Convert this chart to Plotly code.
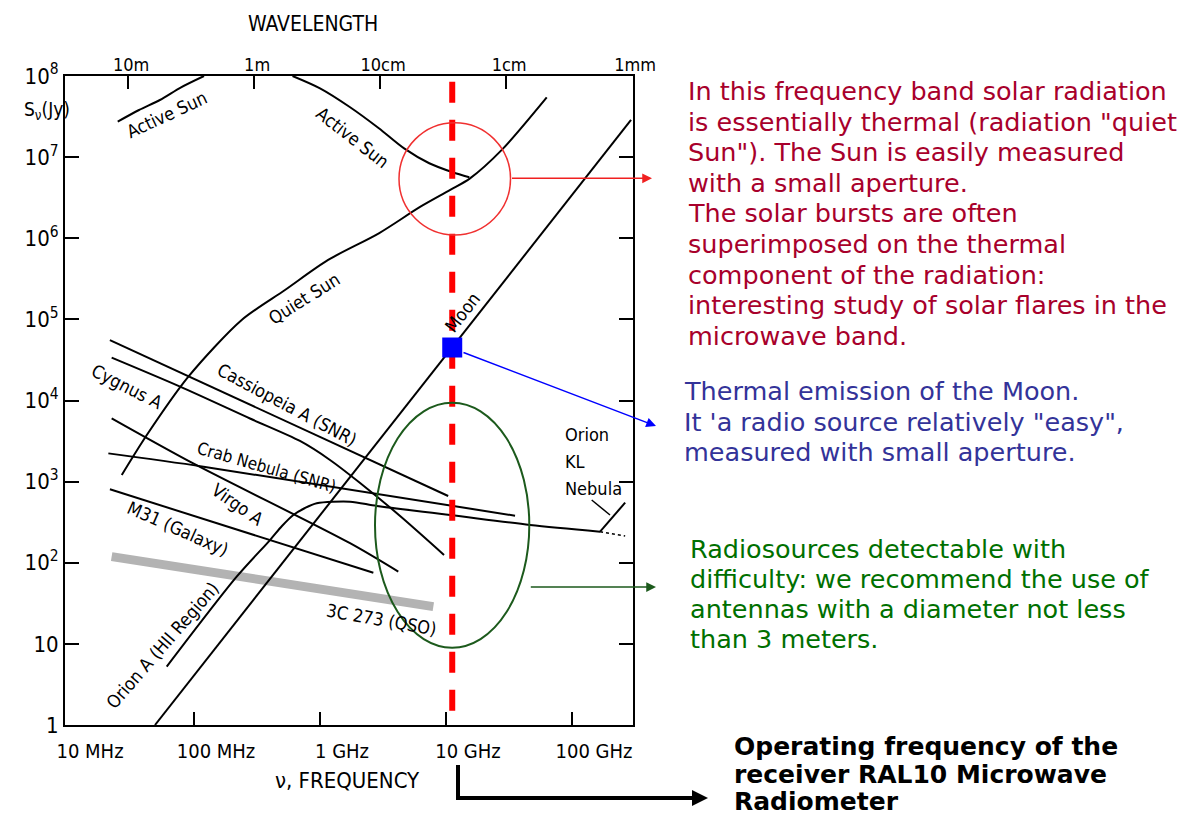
import plotly.graph_objects as go

# ---------------- data (frequency in Hz, flux density in Jy) -------------
active_sun_low_f = [2.48e7, 3.66e7, 5.36e7, 7.89e7, 1.20e8]
active_sun_low_s = [2.74e7, 3.81e7, 5.06e7, 7.26e7, 1.00e8]

active_sun_high_f = [6.05e8, 1.00e9, 1.71e9, 2.93e9, 4.65e9, 7.36e9, 1.13e10, 1.53e10]
active_sun_high_s = [1.00e8, 7.05e7, 4.18e7, 2.27e7, 1.28e7, 8.40e6, 6.50e6, 5.64e6]

quiet_sun_f = [2.67e7, 4.22e7, 9.02e7, 2.39e8, 5.27e8, 1.16e9, 2.93e9, 6.22e9,
               1.08e10, 1.55e10, 2.77e10, 6.30e10]
quiet_sun_s = [1.21e3, 3.76e3, 1.97e4, 9.84e4, 2.30e5, 5.40e5, 1.15e6, 2.43e6,
               3.94e6, 5.48e6, 1.23e7, 5.46e7]

moon_f = [4.90e7, 2.94e11]
moon_s = [1.0, 2.87e7]

cas_a_f = [2.15e7, 1.04e10]
cas_a_s = [5.56e4, 665.0]

cyg_a_f = [2.22e7, 7.75e7, 2.78e8, 6.93e8, 1.20e9, 2.08e9, 4.32e9, 9.64e9]
cyg_a_s = [3.37e4, 1.48e4, 6.00e3, 3.17e3, 1.85e3, 962.0, 377.0, 125.0]

virgo_a_f = [2.22e7, 9.86e7, 1.73e9, 4.18e9]
virgo_a_s = [6.04e3, 1.68e3, 174.0, 77.6]

m31_f = [2.15e7, 2.65e9]
m31_s = [804.0, 75.3]

crab_f = [2.09e7, 1.19e8, 3.53e10]
crab_s = [2.23e3, 1.53e3, 380.0]

orion_a_f = [6.07e7, 2.18e8, 4.01e8, 4.99e8, 6.14e8, 7.60e8, 9.42e8, 1.73e9,
             2.82e9, 1.08e10, 4.65e10, 1.67e11]
orion_a_s = [5.24, 67.3, 190.5, 283.8, 388.2, 473.2, 540.8, 566.2,
             501.2, 388.2, 291.7, 241.5]

orion_kl_f = [1.67e11, 2.64e11]
orion_kl_s = [241.5, 551.0]
orion_ext_f = [1.67e11, 2.64e11]
orion_ext_s = [241.5, 213.8]

qso_3c273_f = [2.22e7, 7.93e9]
qso_3c273_s = [119.0, 28.8]

radiometer_f = [1.12e10, 1.12e10]
radiometer_s = [8.5e7, 1.09]
moon_at_radiometer_f = [1.12e10]
moon_at_radiometer_s = [4.5e4]

freq_ticks = [1e7, 1e8, 1e9, 1e10, 1e11]
freq_labels = ["10 MHz", "100 MHz", "1 GHz", "10 GHz", "100 GHz"]
wave_ticks = [3e7, 3e8, 3e9, 3e10, 3e11]
wave_labels = ["10m", "1m", "10cm", "1cm", "1mm"]
flux_ticks = [1, 10, 1e2, 1e3, 1e4, 1e5, 1e6, 1e7, 1e8]
flux_labels = ["1", "10", "10<sup>2</sup>", "10<sup>3</sup>", "10<sup>4</sup>",
               "10<sup>5</sup>", "10<sup>6</sup>", "10<sup>7</sup>", "10<sup>8</sup>"]

# ---------------- layout geometry (page pixels; the page body has an 8px margin) -------------
BODY = 8
W, H = 1191 - BODY, 817 - BODY
PL, PR, PT, PB = 65, 633, 76, 725          # plot frame in page pixels
L, T = PL - BODY, PT - BODY
R, B = (BODY + W) - PR, (BODY + H) - PB
PW, PH = PR - PL, PB - PT
X_RANGE = [6.976, 6.976 + PW / 126.0]

NARROW = "Liberation Sans Narrow, DejaVu Sans Condensed, Roboto Condensed, Arial Narrow, Liberation Sans, sans-serif"
VERD = "DejaVu Sans, Verdana, sans-serif"


def px(x):
    return (x - PL) / PW


def py(y):
    return (PB - y) / PH


fig = go.Figure()


def curve(f, s, width=2.0, color="black", dash=None, shape="linear", opacity=1.0):
    fig.add_trace(go.Scatter(x=f, y=s, mode="lines", opacity=opacity,
                             line=dict(color=color, width=width, dash=dash, shape=shape,
                                       smoothing=0.8),
                             hoverinfo="skip", showlegend=False))


curve(qso_3c273_f, qso_3c273_s, width=9, color="#9a9a9a", opacity=0.75)
curve(active_sun_low_f, active_sun_low_s, shape="spline")
curve(active_sun_high_f, active_sun_high_s, shape="spline")
curve(quiet_sun_f, quiet_sun_s, shape="spline")
curve(moon_f, moon_s)
curve(cas_a_f, cas_a_s)
curve(cyg_a_f, cyg_a_s, shape="spline")
curve(virgo_a_f, virgo_a_s, shape="spline")
curve(m31_f, m31_s)
curve(crab_f, crab_s, shape="spline")
curve(orion_a_f, orion_a_s, shape="spline")
curve(orion_kl_f, orion_kl_s)
curve(orion_ext_f, orion_ext_s, width=1.5, dash="3px,3px")

# radiometer frequency line
fig.add_trace(go.Scatter(x=radiometer_f, y=radiometer_s, mode="lines",
                         line=dict(color="#ff0000", width=6, dash="21px,17px"),
                         hoverinfo="skip", showlegend=False))
fig.add_trace(go.Scatter(x=moon_at_radiometer_f, y=moon_at_radiometer_s, mode="markers",
                         marker=dict(symbol="square", size=20, color="#0000ff"),
                         hoverinfo="skip", showlegend=False))
# invisible traces to carry the wavelength axis and the bottom tick marks
fig.add_trace(go.Scatter(x=wave_ticks, y=[10] * len(wave_ticks), xaxis="x2", mode="lines",
                         line=dict(width=0), opacity=0, hoverinfo="skip", showlegend=False))
fig.add_trace(go.Scatter(x=freq_ticks, y=[10] * len(freq_ticks), xaxis="x3", mode="lines",
                         line=dict(width=0), opacity=0, hoverinfo="skip", showlegend=False))

fig.update_layout(
    width=W, height=H, margin=dict(l=L, r=R, t=T, b=B, pad=0),
    paper_bgcolor="white", plot_bgcolor="white", showlegend=False,
    font=dict(family=NARROW, color="black"),
    xaxis=dict(type="log", range=X_RANGE, tickvals=freq_ticks, ticktext=freq_labels,
               ticks="", showline=True, linecolor="black", linewidth=2, mirror=True,
               showgrid=False, zeroline=False, tickfont=dict(size=20, family=NARROW),
               ticklabelshift=22, ticklabelstandoff=7),
    xaxis3=dict(type="log", range=X_RANGE, overlaying="x", side="bottom",
                tickvals=freq_ticks[1:], showticklabels=False, ticks="inside", ticklen=13,
                tickwidth=1.5, tickcolor="black", showline=False, showgrid=False,
                zeroline=False),
    xaxis2=dict(type="log", range=X_RANGE, overlaying="x", side="top",
                tickvals=wave_ticks, ticktext=wave_labels, ticks="inside", ticklen=13,
                tickwidth=1.5, tickcolor="black", showline=False, showgrid=False,
                zeroline=False, tickfont=dict(size=18, family=NARROW), ticklabelshift=3),
    yaxis=dict(type="log", range=[0, 8], tickvals=flux_ticks, ticktext=flux_labels,
               ticks="inside", ticklen=14, tickwidth=1.5, tickcolor="black",
               showline=True, linecolor="black", linewidth=2, mirror="ticks",
               showgrid=False, zeroline=False, tickfont=dict(size=22, family=NARROW)),
)


def label(text, x, y, angle=0, size=18, xanchor="center", color="black", family=NARROW):
    fig.add_annotation(text=text, x=px(x), y=py(y), xref="paper", yref="paper",
                       showarrow=False, textangle=angle, xanchor=xanchor, yanchor="middle",
                       font=dict(size=size, color=color, family=family))


# axis titles
label("WAVELENGTH", 313, 24, size=21)
label("ν, FREQUENCY", 347, 780, size=22)
label("S<sub>ν</sub>(Jy)", 47, 110, size=19)

# curve labels
label("Active Sun", 167, 115, -25)
label("Active Sun", 353, 137, 38)
label("Quiet Sun", 304, 298, -32)
label("Moon", 462, 312, -52)
label("Cygnus A", 127, 386, 27)
label("Cassiopeia A (SNR)", 287, 404, 28)
label("Crab Nebula (SNR)", 266, 467, 16, size=17)
label("Virgo A", 238, 504, 35)
label("M31 (Galaxy)", 178, 528, 24)
label("Orion A (HII Region)", 162, 645, -49)
label("3C 273 (QSO)", 381, 619, 10)
label("Orion", 563, 435, xanchor="left")
label("KL", 563, 461, xanchor="left")
label("Nebula", 563, 488, xanchor="left")

# shapes: circles, leader, bracket
fig.add_shape(type="circle", xref="paper", yref="paper", x0=px(399), x1=px(510.5),
              y0=py(235), y1=py(122.7), line=dict(color="#f03030", width=1.5))
fig.add_shape(type="circle", xref="paper", yref="paper", x0=px(375), x1=px(529.3),
              y0=py(647.7), y1=py(402.7), line=dict(color="#1c5a1c", width=2))
fig.add_shape(type="line", xref="paper", yref="paper", x0=px(591.7), y0=py(500),
              x1=px(610), y1=py(515), line=dict(color="black", width=1.5))
fig.add_shape(type="line", xref="paper", yref="paper", x0=px(458), y0=py(765),
              x1=px(458), y1=py(800), line=dict(color="black", width=4))


def arrow(x0, y0, x1, y1, color, width=1.5, size=1.3):
    fig.add_annotation(text="", x=px(x1), y=py(y1), xref="paper", yref="paper",
                       ax=x0 - x1, ay=y0 - y1, showarrow=True, arrowhead=2,
                       arrowsize=size, arrowwidth=width, arrowcolor=color, standoff=0,
                       startstandoff=0)


arrow(510.5, 178.3, 652, 178.3, "#f02020")
arrow(462, 352, 656, 426, "#0000ff")
arrow(529.3, 587, 656, 587, "#1c5a1c")
arrow(456, 798, 708, 798, "black", width=4, size=0.8)

# explanatory text blocks
red_lines = ["In this frequency band solar radiation",
             "is essentially thermal (radiation \"quiet",
             "Sun\"). The Sun is easily measured",
             "with a small aperture.",
             "The solar bursts are often",
             "superimposed on the thermal",
             "component of the radiation:",
             "interesting study of solar flares in the",
             "microwave band."]
for i, t in enumerate(red_lines):
    label(t, 686, 91 + 30.6 * i, size=25.5, xanchor="left", color="#a8002b", family=VERD)

blue_lines = ["Thermal emission of the Moon.",
              "It 'a radio source relatively \"easy\",",
              "measured with small aperture."]
for i, t in enumerate(blue_lines):
    label(t, 682, 391 + 30.6 * i, size=25.5, xanchor="left", color="#333399", family=VERD)

green_lines = ["Radiosources detectable with",
               "difficulty: we recommend the use of",
               "antennas with a diameter not less",
               "than 3 meters."]
for i, t in enumerate(green_lines):
    label(t, 688, 549 + 30 * i, size=25.5, xanchor="left", color="#007000", family=VERD)

black_lines = ["Operating frequency of the",
               "receiver RAL10 Microwave",
               "Radiometer"]
for i, t in enumerate(black_lines):
    label("<b>" + t + "</b>", 732, 747 + 27.5 * i, size=25, xanchor="left", family=VERD)

fig.write_html("out.html")
